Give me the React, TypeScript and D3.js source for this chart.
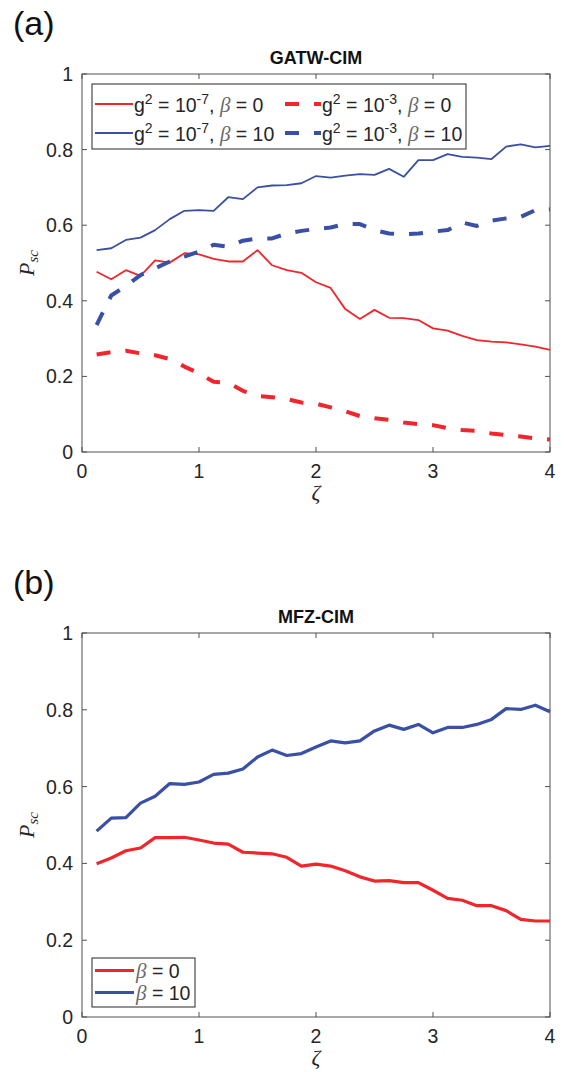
import * as d3 from 'd3'

// zeta grid (both panels)
const zeta = [
	0.125, 0.25, 0.375, 0.5, 0.625, 0.75, 0.875, 1.0,
	1.125, 1.25, 1.375, 1.5, 1.625, 1.75, 1.875, 2.0,
	2.125, 2.25, 2.375, 2.5, 2.625, 2.75, 2.875, 3.0,
	3.125, 3.25, 3.375, 3.5, 3.625, 3.75, 3.875, 4.0,
]

// (a) GATW-CIM
const gatwLowB0 = [
	0.477, 0.457, 0.481, 0.466, 0.507, 0.501, 0.526, 0.523,
	0.511, 0.504, 0.504, 0.534, 0.494, 0.481, 0.474, 0.449,
	0.434, 0.378, 0.352, 0.376, 0.355, 0.354, 0.349, 0.327,
	0.321, 0.307, 0.296, 0.292, 0.290, 0.285, 0.279, 0.270,
]
const gatwLowB10 = [
	0.534, 0.539, 0.561, 0.567, 0.587, 0.616, 0.638, 0.640,
	0.638, 0.674, 0.669, 0.700, 0.705, 0.706, 0.711, 0.730,
	0.726, 0.731, 0.735, 0.733, 0.749, 0.728, 0.772, 0.772,
	0.788, 0.781, 0.779, 0.775, 0.808, 0.814, 0.806, 0.810,
]
const gatwHighB0 = [
	0.258, 0.264, 0.268, 0.261, 0.256, 0.246, 0.226, 0.208,
	0.186, 0.183, 0.162, 0.148, 0.145, 0.140, 0.131, 0.128,
	0.118, 0.108, 0.095, 0.089, 0.085, 0.078, 0.074, 0.071,
	0.063, 0.058, 0.056, 0.049, 0.045, 0.041, 0.036, 0.033,
]
const gatwHighB10 = [
	0.336, 0.414, 0.439, 0.468, 0.486, 0.504, 0.517, 0.530,
	0.548, 0.543, 0.559, 0.565, 0.565, 0.578, 0.585, 0.590,
	0.594, 0.603, 0.603, 0.587, 0.578, 0.576, 0.578, 0.583,
	0.587, 0.607, 0.598, 0.612, 0.618, 0.622, 0.640, 0.642,
]

// (b) MFZ-CIM
const mfzB0 = [
	0.399, 0.414, 0.433, 0.440, 0.467, 0.467, 0.468, 0.461,
	0.453, 0.450, 0.429, 0.427, 0.425, 0.416, 0.393, 0.398,
	0.393, 0.381, 0.365, 0.354, 0.355, 0.350, 0.350, 0.330,
	0.309, 0.304, 0.290, 0.290, 0.277, 0.254, 0.250, 0.250,
]
const mfzB10 = [
	0.484, 0.518, 0.519, 0.557, 0.575, 0.608, 0.606, 0.612,
	0.632, 0.635, 0.646, 0.677, 0.695, 0.681, 0.686, 0.703,
	0.719, 0.714, 0.719, 0.745, 0.760, 0.749, 0.762, 0.740,
	0.754, 0.754, 0.762, 0.775, 0.803, 0.801, 0.812, 0.795,
]

const xTicks = [0, 1, 2, 3, 4]
const yTicks = [0, 0.2, 0.4, 0.6, 0.8, 1]

const RED = '#f0262c'
const BLUE = '#3a4fa6'
const AXIS = '#505050'
const TXT = '#262626'
const SANS = 'Liberation Sans, Arial, sans-serif'
const SERIF = 'Liberation Serif, Times New Roman, serif'

const x = d3.scaleLinear().domain([0, 4]).range([82, 550])

function Beta() {
	return (
		<tspan fontFamily={SERIF} fontStyle="italic" fontSize={21} fill="#6a6a6a">
			β
		</tspan>
	)
}

function Panel({ top, bottom, title, tag, series, children }) {
	const y = d3.scaleLinear().domain([0, 1]).range([bottom, top])
	const line = d3
		.line()
		.x((d, i) => x(zeta[i]))
		.y(d => y(d))
	const x0 = x.range()[0]
	const x1 = x.range()[1]
	return (
		<g>
			<text x={13} y={top - 39} fontFamily={SANS} fontSize={34} fill="#111">
				{tag}
			</text>
			<text
				x={(x0 + x1) / 2}
				y={top - 10}
				textAnchor="middle"
				fontFamily={SANS}
				fontWeight="bold"
				fontSize={18}
				fill="#111"
			>
				{title}
			</text>
			<rect x={x0} y={top} width={x1 - x0} height={bottom - top} fill="white" stroke={AXIS} strokeWidth={1} />
			{xTicks.map(t => (
				<g key={'x' + t}>
					<line x1={x(t)} x2={x(t)} y1={bottom} y2={bottom - 5} stroke={AXIS} />
					<line x1={x(t)} x2={x(t)} y1={top} y2={top + 5} stroke={AXIS} />
					<text x={x(t)} y={bottom + 26} textAnchor="middle" fontFamily={SANS} fontSize={19.5} fill={TXT}>
						{t}
					</text>
				</g>
			))}
			{yTicks.map(t => (
				<g key={'y' + t}>
					<line x1={x0} x2={x0 + 5} y1={y(t)} y2={y(t)} stroke={AXIS} />
					<line x1={x1} x2={x1 - 5} y1={y(t)} y2={y(t)} stroke={AXIS} />
					<text x={73} y={y(t) + 7} textAnchor="end" fontFamily={SANS} fontSize={19.5} fill={TXT}>
						{t}
					</text>
				</g>
			))}
			<text
				transform={`translate(34,${(top + bottom) / 2}) rotate(-90)`}
				textAnchor="middle"
				fontFamily={SERIF}
				fontStyle="italic"
				fontSize={22}
				fill={TXT}
			>
				P<tspan fontSize={15} dy={4}>sc</tspan>
			</text>
			<text
				x={(x0 + x1) / 2}
				y={bottom + 48}
				textAnchor="middle"
				fontFamily={SERIF}
				fontStyle="italic"
				fontSize={22}
				fill={TXT}
			>
				ζ
			</text>
			{series.map((s, i) => (
				<path
					key={i}
					d={line(s.values)}
					fill="none"
					stroke={s.color}
					strokeWidth={s.width}
					strokeDasharray={s.dash}
					strokeLinejoin="round"
				/>
			))}
			{children}
		</g>
	)
}

export default function App() {
	const topSeries = [
		{ values: gatwLowB0, color: RED, width: 1.8 },
		{ values: gatwLowB10, color: BLUE, width: 1.8 },
		{ values: gatwHighB0, color: RED, width: 4, dash: '14 15' },
		{ values: gatwHighB10, color: BLUE, width: 4, dash: '14 15' },
	]
	const botSeries = [
		{ values: mfzB0, color: RED, width: 3.2 },
		{ values: mfzB10, color: BLUE, width: 3.2 },
	]
	const legTop = [
		{ lx: 95, tx: 134, yy: 104, color: RED, dash: undefined, w: 1.8, g: '-7', b: '0' },
		{ lx: 95, tx: 134, yy: 133, color: BLUE, dash: undefined, w: 1.8, g: '-7', b: '10' },
		{ lx: 285, tx: 322, yy: 104, color: RED, dash: '14 15', w: 4, g: '-3', b: '0' },
		{ lx: 285, tx: 322, yy: 133, color: BLUE, dash: '14 15', w: 4, g: '-3', b: '10' },
	]
	return (
		<svg width={564} height={1072} style={{ position: 'absolute', left: 0, top: 0, background: 'white' }}>
			<Panel top={74} bottom={452} title="GATW-CIM" tag="(a)" series={topSeries}>
				<rect x={92} y={84} width={374} height={65} fill="white" stroke={TXT} strokeWidth={1} />
				{legTop.map((l, i) => (
					<g key={i}>
						<line
							x1={l.lx}
							x2={l.tx - 1}
							y1={l.yy}
							y2={l.yy}
							stroke={l.color}
							strokeWidth={l.w}
							strokeDasharray={l.dash}
						/>
						<text x={l.tx} y={l.yy + 8} fontFamily={SANS} fontSize={19.5} fill={TXT} style={{ whiteSpace: 'pre' }}>
							g<tspan dy={-8} fontSize={14}>2</tspan>
							<tspan dy={8}> = 10</tspan>
							<tspan dy={-8} fontSize={14}>{l.g}</tspan>
							<tspan dy={8}>, </tspan>
							<Beta />
							<tspan> = {l.b}</tspan>
						</text>
					</g>
				))}
			</Panel>
			<Panel top={633} bottom={1017} title="MFZ-CIM" tag="(b)" series={botSeries}>
				<rect x={92} y={958} width={103} height={49} fill="white" stroke={TXT} strokeWidth={1} />
				{[
					{ yy: 970.5, color: RED, b: '0' },
					{ yy: 992.5, color: BLUE, b: '10' },
				].map((l, i) => (
					<g key={i}>
						<line x1={95} x2={134} y1={l.yy} y2={l.yy} stroke={l.color} strokeWidth={3.2} />
						<text x={136} y={l.yy + 7} fontFamily={SANS} fontSize={19.5} fill={TXT} style={{ whiteSpace: 'pre' }}>
							<Beta />
							<tspan> = {l.b}</tspan>
						</text>
					</g>
				))}
			</Panel>
		</svg>
	)
}
